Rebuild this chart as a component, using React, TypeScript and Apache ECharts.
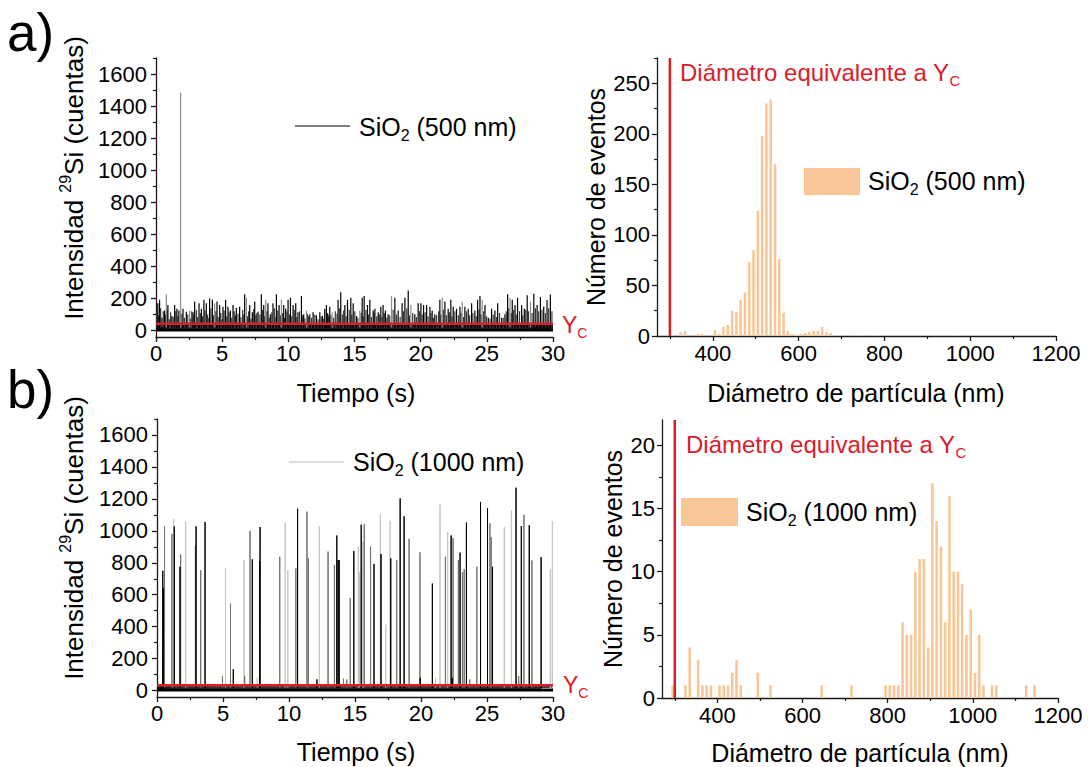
import React, { useEffect, useRef } from "react";
import * as echarts from "echarts";

const FONT = '"Liberation Sans", Arial, Helvetica, sans-serif';

// ---------- axis ticks ----------
const timeTicks = [0, 5, 10, 15, 20, 25, 30];
const timeMinorTicks = [2.5, 7.5, 12.5, 17.5, 22.5, 27.5];
const intensityTicks = [0, 200, 400, 600, 800, 1000, 1200, 1400, 1600];
const intensityMinorTicks = [100, 300, 500, 700, 900, 1100, 1300, 1500, 1700];
const diamTicks = [400, 600, 800, 1000, 1200];
const diamMinorTicks = [300, 500, 700, 900, 1100];
const eventsTicksA = [0, 50, 100, 150, 200, 250];
const eventsMinorTicksA = [25, 75, 125, 175, 225, 275];
const eventsTicksB = [0, 5, 10, 15, 20];
const eventsMinorTicksB = [2.5, 7.5, 12.5, 17.5];

// ---------- panel a) time trace, SiO2 500 nm : [time s, counts] ----------
const spikesABlack: [number, number][] = [
  [0.14, 170], [0.27, 193], [0.65, 125], [0.9, 159], [1.2, 91], [1.41, 159], [1.58, 136], [1.73, 125],
  [2.04, 136], [2.29, 118], [2.79, 114], [2.92, 182], [3.25, 170], [3.43, 136], [3.62, 193], [3.8, 170],
  [4.05, 200], [4.26, 193], [4.61, 182], [4.81, 159], [5.06, 148], [5.26, 193], [5.44, 148], [5.62, 125],
  [5.82, 159], [6.07, 141], [6.32, 148], [6.7, 227], [7.08, 159], [7.28, 114], [7.46, 182], [7.71, 118],
  [7.96, 227], [8.14, 159], [8.46, 170], [8.64, 102], [8.84, 170], [9.1, 227], [9.3, 159], [9.65, 159],
  [9.8, 136], [9.98, 193], [10.16, 205], [10.36, 159], [10.56, 170], [10.73, 114], [10.99, 216], [11.16, 102],
  [11.62, 102], [11.87, 114], [12.12, 95], [12.38, 114], [12.58, 91], [12.75, 136], [12.88, 159], [13.0, 102],
  [13.13, 148], [13.76, 193], [13.96, 239], [14.27, 159], [14.47, 193], [14.72, 205], [14.9, 170], [15.15, 91],
  [15.58, 205], [15.73, 216], [15.98, 159], [16.16, 193], [16.41, 125], [16.54, 136], [16.79, 114], [16.99, 148],
  [17.16, 159], [17.34, 125], [17.54, 102], [18.05, 205], [18.3, 125], [18.6, 170], [18.81, 205], [19.06, 250],
  [19.56, 102], [19.81, 170], [20.02, 170], [20.22, 159], [20.45, 159], [20.7, 148], [20.87, 125], [21.07, 102],
  [21.45, 193], [21.83, 182], [22.08, 136], [22.28, 193], [22.46, 148], [22.71, 136], [22.97, 148], [23.34, 148],
  [23.59, 136], [23.85, 170], [24.1, 125], [24.3, 193], [24.48, 216], [24.86, 159], [25.11, 80], [25.36, 136],
  [25.61, 125], [25.82, 170], [26.12, 80], [26.37, 102], [26.57, 227], [26.92, 193], [27.13, 159], [27.32, 205],
  [27.63, 159], [27.83, 136], [28.05, 220], [28.55, 230], [28.8, 160], [29.05, 210], [29.3, 150], [29.55, 190],
  [29.8, 225],
];
const spikesAGray: [number, number][] = [
  [0.78, 227], [1.86, 1483], [2.54, 125], [4.43, 170], [6.83, 205], [8.29, 193], [9.48, 193], [11.37, 125],
  [13.31, 114], [15.4, 125], [17.8, 216], [19.26, 159], [21.63, 205], [23.14, 182], [24.65, 193], [26.75, 205],
  [28.3, 180],
];
// smaller, densely packed events of the same trace
const spikesAMinor: [number, number][] = [
  [0.08, 110], [0.2, 95], [0.35, 140], [0.45, 80], [0.55, 120], [0.72, 100], [0.84, 130], [1.0, 70], [1.1, 115],
  [1.3, 85], [1.5, 120], [1.66, 90], [1.95, 105], [2.15, 80], [2.4, 100], [2.6, 75], [2.7, 120], [2.85, 95],
  [3.05, 130], [3.15, 85], [3.35, 110], [3.52, 90], [3.7, 125], [3.9, 100], [4.0, 80], [4.15, 140], [4.35, 95],
  [4.52, 120], [4.7, 85], [4.9, 110], [5.0, 70], [5.15, 125], [5.35, 90], [5.52, 115], [5.72, 80], [5.92, 120],
  [6.0, 95], [6.2, 105], [6.42, 85], [6.55, 130], [6.62, 100], [6.92, 90], [7.0, 120], [7.18, 75], [7.38, 135],
  [7.55, 95], [7.62, 110], [7.85, 100], [8.05, 130], [8.22, 90], [8.38, 120], [8.55, 80], [8.75, 115], [8.95, 140],
  [9.0, 85], [9.2, 125], [9.4, 95], [9.57, 110], [9.72, 80], [9.9, 120], [10.08, 100], [10.26, 90], [10.45, 130],
  [10.65, 85], [10.85, 120], [11.08, 95], [11.25, 75], [11.45, 105], [11.52, 90], [11.75, 80], [12.0, 100],
  [12.25, 70], [12.48, 90], [12.68, 75], [12.95, 110], [13.06, 85], [13.22, 95], [13.42, 80], [13.55, 120],
  [13.68, 105], [13.86, 140], [14.08, 100], [14.18, 125], [14.37, 90], [14.6, 130], [14.8, 100], [15.02, 120],
  [15.25, 80], [15.5, 110], [15.65, 90], [15.86, 130], [16.06, 100], [16.28, 85], [16.48, 110], [16.68, 90],
  [16.88, 100], [17.08, 85], [17.25, 110], [17.45, 80], [17.66, 95], [17.92, 130], [18.17, 100], [18.45, 85],
  [18.7, 120], [18.95, 140], [19.16, 95], [19.4, 110], [19.68, 85], [19.92, 120], [20.12, 100], [20.33, 115],
  [20.56, 90], [20.78, 110], [20.97, 80], [21.2, 95], [21.35, 120], [21.53, 100], [21.72, 130], [21.95, 95],
  [22.18, 115], [22.37, 90], [22.58, 120], [22.85, 95], [23.05, 110], [23.24, 85], [23.46, 120], [23.7, 95],
  [23.95, 110], [24.2, 90], [24.4, 130], [24.57, 100], [24.76, 120], [24.98, 90], [25.24, 75], [25.48, 100],
  [25.72, 85], [25.96, 110], [26.24, 80], [26.47, 120], [26.66, 140], [26.84, 110], [27.02, 130], [27.22, 100],
  [27.47, 120], [27.72, 95], [27.94, 130], [28.15, 120], [28.42, 110], [28.67, 140], [28.92, 120], [29.17, 130],
  [29.42, 110], [29.67, 140], [29.92, 120],
];
const noiseBandA: [number, number][] = [[0, 38], [30, 38]];
const ycA = 42;

// ---------- panel b) time trace, SiO2 1000 nm ----------
const spikesBBlack: [number, number][] = [
  [0.44, 750], [0.48, 640], [1.31, 1028], [1.74, 775], [2.96, 1028], [3.64, 1055], [5.78, 134], [7.22, 822],
  [7.78, 810], [7.81, 1024], [10.65, 1139], [12.12, 70], [13.62, 971], [13.72, 817], [13.8, 817], [14.91, 874],
  [15.47, 1038], [16.44, 792], [16.97, 855], [17.71, 828], [18.42, 1203], [18.72, 1091], [19.94, 80], [20.86, 670],
  [22.28, 971], [22.36, 80], [22.96, 864], [23.44, 1052], [24.51, 1181], [25.04, 1143], [25.42, 775], [27.2, 1270],
  [27.6, 1030], [28.2, 1035], [29.1, 835],
];
const spikesBMid: [number, number][] = [
  [0.57, 1028], [1.13, 980], [1.79, 853], [2.91, 906], [3.31, 754], [4.96, 92], [5.57, 544], [6.64, 92],
  [7.05, 1000], [9.3, 838], [10.52, 765], [11.36, 1120], [11.46, 828], [12.96, 870], [13.44, 786], [14.13, 75],
  [14.38, 70], [14.64, 580], [15.7, 1041], [16.18, 902], [18.16, 817], [19.1, 950], [19.92, 866], [21.85, 838],
  [22.43, 954], [22.83, 817], [23.14, 740], [23.27, 760], [23.69, 70], [24.23, 775], [25.22, 1046], [25.32, 960],
  [27.4, 90], [27.8, 1100], [28.4, 815],
];
const spikesBLight: [number, number][] = [
  [1.26, 1074], [2.17, 1059], [5.19, 765], [6.59, 817], [7.6, 80], [9.71, 1052], [9.91, 754], [12.3, 1028],
  [15.25, 902], [15.35, 740], [15.6, 933], [16.92, 1101], [17.33, 413], [17.66, 1063], [21.1, 80], [21.44, 1165],
  [22.02, 992], [26.31, 1024], [26.85, 1127], [29.8, 760], [29.95, 1060],
];
const noiseBandB: [number, number][] = [[0, 28], [30, 28]];
const ycB = 33;

// ---------- histograms (bin centre nm, number of events) ----------
const histABins = [305, 325, 335, 365, 375, 405, 415, 425, 435, 445, 455, 465, 475, 485, 495, 505, 515, 525, 535,
  545, 555, 565, 575, 585, 595, 605, 615, 625, 635, 645, 655, 665, 675, 685, 735, 775, 965];
const histACounts = [1, 4, 5, 2, 2, 6, 2, 9, 11, 25, 24, 36, 43, 73, 85, 124, 198, 230, 234,
  170, 76, 23, 5, 2, 1, 2, 3, 4, 5, 5, 9, 4, 3, 1, 1, 1, 1];
const histBBins = [295, 325, 335, 355, 365, 375, 385, 405, 415, 425, 435, 445, 455, 495, 525, 645, 715,
  795, 805, 815, 825, 835, 845, 855, 865, 875, 885, 895, 905, 915, 925, 935, 945, 955, 965, 975, 985, 995,
  1005, 1015, 1025, 1045, 1055, 1125, 1145];
const histBCounts = [1, 1, 4, 3, 1, 1, 1, 1, 1, 1, 2, 3, 1, 2, 1, 1, 1,
  1, 1, 1, 1, 6, 5, 5, 10, 11, 11, 4, 17, 14, 12, 6, 16, 10, 10, 9, 5, 7,
  2, 5, 1, 1, 1, 1, 1];
const diamYcA = 300;
const diamYcB = 300;

const RED = "#d9202a";
const PEACH = "#f9c797";
const AXIS = "#1a1a1a";

function spikeLine(spikes: [number, number][], base: number) {
  const out: [number, number][] = [];
  spikes.slice().sort((a, b) => a[0] - b[0]).forEach(([t, h]) => {
    out.push([t, base], [t, h], [t, base]);
  });
  return out;
}

function axisPair(gridIndex: number, pos: string, min: number, max: number, major: number[], minor: number[], margin: number) {
  const main = {
    type: "value", gridIndex, position: pos, min, max,
    axisLine: { show: true, onZero: false, lineStyle: { color: AXIS, width: 1.3 } },
    axisTick: { show: true, inside: false, length: 5, customValues: major, lineStyle: { color: AXIS, width: 1.3 } },
    axisLabel: { show: true, customValues: major, margin, color: "#000", fontSize: 22, fontFamily: FONT, formatter: (v: number) => String(v) },
    splitLine: { show: false },
  };
  const minorAx = {
    type: "value", gridIndex, position: pos, min, max,
    axisLine: { show: false, onZero: false },
    axisTick: { show: true, inside: false, length: 3, customValues: minor, lineStyle: { color: AXIS, width: 1.2 } },
    axisLabel: { show: false },
    splitLine: { show: false },
  };
  return [main, minorAx];
}

function richText(x: number, y: number, text: string, size: number, color: string, extra: any = {}) {
  const L = Math.round(size * 1.3);
  const l = L - Math.round(size * 0.72);
  const small = Math.round(size * 0.62);
  return {
    type: "text", x, y, ...extra,
    style: {
      text, fill: color, fontSize: size, fontFamily: FONT, lineHeight: L,
      align: extra.align || "left", verticalAlign: "middle",
      rich: {
        s: { fontSize: small, fontFamily: FONT, fill: color, lineHeight: l, verticalAlign: "bottom" },
        p: { fontSize: small, fontFamily: FONT, fill: color, lineHeight: l, verticalAlign: "top" },
      },
    },
  };
}

export default function App() {
  const ref = useRef<HTMLDivElement>(null);
  useEffect(() => {
    if (!ref.current) return;
    const chart = echarts.init(ref.current, null, { renderer: "svg" });
    const grids = [
      { left: 156, top: 58, width: 397, height: 279 },
      { left: 657, top: 58, width: 399, height: 278 },
      { left: 157, top: 419, width: 396, height: 278 },
      { left: 662, top: 420, width: 396, height: 278 },
    ];
    const xAxis = [
      ...axisPair(0, "bottom", 0, 30, timeTicks, timeMinorTicks, 5),
      ...axisPair(1, "bottom", 270, 1200, diamTicks, diamMinorTicks, 6),
      ...axisPair(2, "bottom", 0, 30, timeTicks, timeMinorTicks, 5),
      ...axisPair(3, "bottom", 270, 1200, diamTicks, diamMinorTicks, 6),
    ];
    const yAxis = [
      ...axisPair(0, "left", -40, 1700, intensityTicks, intensityMinorTicks, 9),
      ...axisPair(1, "left", 0, 275, eventsTicksA, eventsMinorTicksA, 7),
      ...axisPair(2, "left", -40, 1700, intensityTicks, intensityMinorTicks, 9),
      ...axisPair(3, "left", 0, 22, eventsTicksB, eventsMinorTicksB, 7),
    ];
    const lineBase = { type: "line", showSymbol: false, symbol: "none", animation: false, silent: true };
    const series: any[] = [
      // panel a
      { ...lineBase, name: "SiO2 (500 nm) minor", xAxisIndex: 0, yAxisIndex: 0, data: spikeLine(spikesAMinor, 15), lineStyle: { color: "#3a3a3a", width: 1.2 } },
      { ...lineBase, name: "SiO2 (500 nm) gray", xAxisIndex: 0, yAxisIndex: 0, data: spikeLine(spikesAGray, 15), lineStyle: { color: "#8c8c8c", width: 1.2 } },
      { ...lineBase, name: "SiO2 (500 nm)", xAxisIndex: 0, yAxisIndex: 0, data: spikeLine(spikesABlack, 15), lineStyle: { color: "#000", width: 1.2 } },
      { ...lineBase, name: "noise a", xAxisIndex: 0, yAxisIndex: 0, data: noiseBandA, lineStyle: { width: 0 }, areaStyle: { color: "#000", opacity: 1, origin: -6 } },
      { ...lineBase, name: "Yc a", xAxisIndex: 0, yAxisIndex: 0, data: [[0, ycA], [30, ycA]], lineStyle: { color: RED, width: 2.5 } },
      // histogram a
      { type: "bar", name: "hist a", xAxisIndex: 2, yAxisIndex: 2, data: histABins.map((b, i) => [b, histACounts[i]]), barWidth: 2.6, itemStyle: { color: PEACH }, silent: true },
      { ...lineBase, name: "dYc a", xAxisIndex: 2, yAxisIndex: 2, data: [[diamYcA, 0], [diamYcA, 275]], lineStyle: { color: RED, width: 2.5 } },
      // panel b
      { ...lineBase, name: "SiO2 (1000 nm) light", xAxisIndex: 4, yAxisIndex: 4, data: spikeLine(spikesBLight, 15), lineStyle: { color: "#c4c4c4", width: 1 } },
      { ...lineBase, name: "SiO2 (1000 nm) mid", xAxisIndex: 4, yAxisIndex: 4, data: spikeLine(spikesBMid, 15), lineStyle: { color: "#707070", width: 1 } },
      { ...lineBase, name: "SiO2 (1000 nm)", xAxisIndex: 4, yAxisIndex: 4, data: spikeLine(spikesBBlack, 15), lineStyle: { color: "#000", width: 1 } },
      { ...lineBase, name: "noise b", xAxisIndex: 4, yAxisIndex: 4, data: noiseBandB, lineStyle: { width: 0 }, areaStyle: { color: "#000", opacity: 1, origin: -6 } },
      { ...lineBase, name: "Yc b", xAxisIndex: 4, yAxisIndex: 4, data: [[0, ycB], [30, ycB]], lineStyle: { color: RED, width: 2.5 } },
      // histogram b
      { type: "bar", name: "hist b", xAxisIndex: 6, yAxisIndex: 6, data: histBBins.map((b, i) => [b, histBCounts[i]]), barWidth: 2.6, itemStyle: { color: PEACH }, silent: true },
      { ...lineBase, name: "dYc b", xAxisIndex: 6, yAxisIndex: 6, data: [[diamYcB, 0], [diamYcB, 22]], lineStyle: { color: RED, width: 2.5 } },
    ];
    const graphic = [
      richText(7, 32, "a)", 53, "#000"),
      richText(7, 389, "b)", 53, "#000"),
      // axis titles
      richText(356, 393, "Tiempo (s)", 25, "#000", { align: "center" }),
      richText(356, 752, "Tiempo (s)", 25, "#000", { align: "center" }),
      richText(856, 393, "Diámetro de partícula (nm)", 25, "#000", { align: "center" }),
      richText(860, 753, "Diámetro de partícula (nm)", 25, "#000", { align: "center" }),
      richText(74, 178, "Intensidad {p|29}Si (cuentas)", 26, "#000", { align: "center", rotation: Math.PI / 2 }),
      richText(74, 538, "Intensidad {p|29}Si (cuentas)", 26, "#000", { align: "center", rotation: Math.PI / 2 }),
      richText(596, 197, "Número de eventos", 25, "#000", { align: "center", rotation: Math.PI / 2 }),
      richText(613, 559, "Número de eventos", 25, "#000", { align: "center", rotation: Math.PI / 2 }),
      // legends
      { type: "line", shape: { x1: 295, y1: 126, x2: 350, y2: 126 }, style: { stroke: "#000", lineWidth: 1 } },
      richText(359, 127, "SiO{s|2} (500 nm)", 25, "#000"),
      { type: "line", shape: { x1: 289, y1: 462, x2: 344, y2: 462 }, style: { stroke: "#bdbdbd", lineWidth: 1.2 } },
      richText(353, 462, "SiO{s|2} (1000 nm)", 25, "#000"),
      { type: "rect", shape: { x: 804, y: 168, width: 56, height: 27 }, style: { fill: PEACH } },
      richText(868, 181, "SiO{s|2} (500 nm)", 25, "#000"),
      { type: "rect", shape: { x: 681, y: 498, width: 57, height: 28 }, style: { fill: PEACH } },
      richText(746, 512, "SiO{s|2} (1000 nm)", 25, "#000"),
      // red annotations
      richText(680, 72, "Diámetro equivalente a Y{s|C}", 24, RED),
      richText(686, 444, "Diámetro equivalente a Y{s|C}", 24, RED),
      richText(562, 325, "Y{s|C}", 23, RED),
      richText(563, 685, "Y{s|C}", 23, RED),
    ];
    chart.setOption({
      animation: false,
      backgroundColor: "#fff",
      textStyle: { fontFamily: FONT },
      grid: grids,
      xAxis,
      yAxis,
      series,
      graphic: { elements: graphic },
    });
    return () => chart.dispose();
  }, []);
  return <div ref={ref} style={{ position: "absolute", left: 0, top: 0, width: 1088, height: 767 }} />;
}
